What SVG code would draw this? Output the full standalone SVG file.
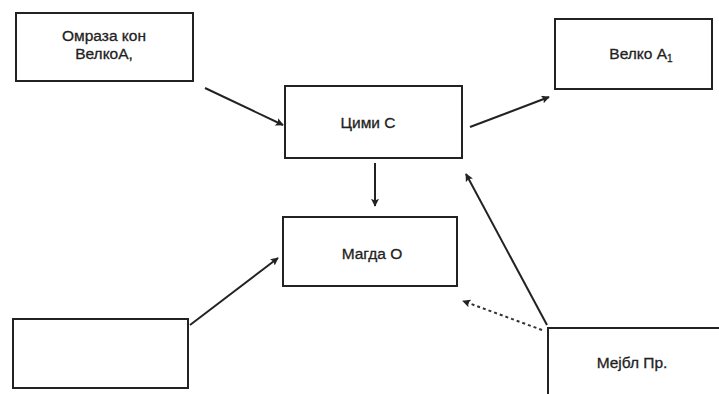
<svg xmlns="http://www.w3.org/2000/svg" width="719" height="394" viewBox="0 0 719 394">
<style>
.box{fill:#fff;stroke:#222;stroke-width:2}
.t{font-family:"Liberation Sans",Arial,sans-serif;font-size:15.5px;fill:#222;stroke:#222;stroke-width:0.3;text-anchor:middle}
.c{stroke:#222;stroke-width:2;fill:none}
.d{stroke:#333;stroke-width:2;fill:none;stroke-dasharray:3 3}
</style>
<defs>
<marker id="ah" viewBox="0 0 10 10" refX="9" refY="5" markerWidth="8" markerHeight="8" markerUnits="userSpaceOnUse" orient="auto">
<path d="M0,0 L10,5 L0,10 L2,5 z" fill="#222"/>
</marker>
</defs>
<rect width="719" height="394" fill="#fff"/>
<g id="omraza"><rect class="box" x="16" y="13" width="177" height="68"/><text class="t" x="104" y="41">Омраза кон</text><text class="t" x="104" y="59">ВелкоА,</text></g>
<g id="velko"><rect class="box" x="555" y="19" width="157" height="70"/><text class="t" x="641" y="59">Велко А<tspan font-size="10" dy="3">1</tspan></text></g>
<g id="cimi"><rect class="box" x="285" y="86" width="177" height="72"/><text class="t" x="368" y="128">Цими С</text></g>
<g id="magda"><rect class="box" x="283" y="217" width="174" height="69"/><text class="t" x="372" y="259">Магда О</text></g>
<g id="empty"><rect class="box" x="13" y="319" width="175" height="69"/></g>
<g id="mejbl"><rect class="box" x="548" y="328" width="175" height="72"/><text class="t" x="632" y="368">Мејбл Пр.</text></g>
<g id="connectors">
<line class="c" x1="205" y1="88" x2="283" y2="125" marker-end="url(#ah)"/>
<line class="c" x1="470" y1="127" x2="549" y2="97" marker-end="url(#ah)"/>
<line class="c" x1="375" y1="163" x2="375" y2="206" marker-end="url(#ah)"/>
<line class="c" x1="190" y1="325" x2="278" y2="258" marker-end="url(#ah)"/>
<line class="c" x1="547" y1="325" x2="466" y2="174" marker-end="url(#ah)"/>
<line class="d" x1="542" y1="330" x2="463" y2="301" marker-end="url(#ah)"/>
</g>
</svg>
